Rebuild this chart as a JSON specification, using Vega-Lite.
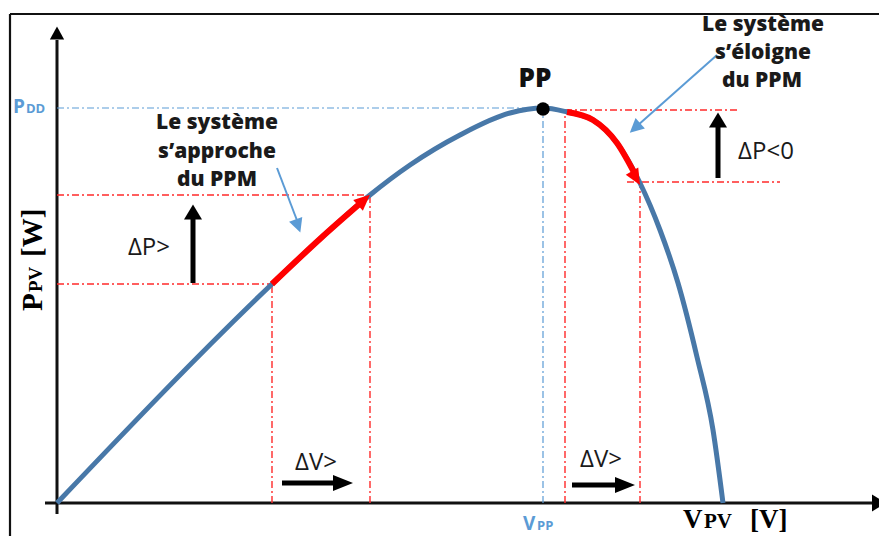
{
  "$schema": "https://vega.github.io/schema/vega-lite/v6.json",
  "width": 879,
  "height": 536,
  "autosize": {"type": "none"},
  "padding": 0,
  "background": "white",
  "config": {"view": {"stroke": null}},
  "encoding": {
    "x": {"field": "x", "type": "quantitative", "scale": {"domain": [-57, 822], "nice": false, "zero": false}, "axis": null},
    "y": {"field": "y", "type": "quantitative", "scale": {"domain": [-33, 503], "nice": false, "zero": false}, "axis": null}
  },
  "layer": [
    {
      "data": {"values": [
        {"x": -47, "y": -40, "x2": -47, "y2": 489},
        {"x": -47, "y": 489, "x2": 830, "y2": 489}
      ]},
      "mark": {"type": "rule", "color": "#111111", "strokeWidth": 2.2},
      "encoding": {"x2": {"field": "x2"}, "y2": {"field": "y2"}}
    },
    {
      "data": {"values": [
        {"x": 0, "y": -11, "x2": 0, "y2": 463},
        {"x": -12, "y": 0, "x2": 815, "y2": 0}
      ]},
      "mark": {"type": "rule", "color": "#111111", "strokeWidth": 3},
      "encoding": {"x2": {"field": "x2"}, "y2": {"field": "y2"}}
    },
    {
      "data": {"values": [
        {"x": 0, "y": 219, "x2": 215, "y2": 219},
        {"x": 0, "y": 308, "x2": 313, "y2": 308},
        {"x": 215, "y": 0, "x2": 215, "y2": 219},
        {"x": 313, "y": 0, "x2": 313, "y2": 308},
        {"x": 508, "y": 393, "x2": 683, "y2": 393},
        {"x": 570, "y": 321, "x2": 723, "y2": 321},
        {"x": 508, "y": 0, "x2": 508, "y2": 393},
        {"x": 583, "y": 0, "x2": 583, "y2": 321}
      ]},
      "mark": {"type": "rule", "color": "#ff2a2a", "strokeWidth": 1.4, "strokeDash": [7, 3, 2, 3]},
      "encoding": {"x2": {"field": "x2"}, "y2": {"field": "y2"}}
    },
    {
      "data": {"values": [
        {"x": 0, "y": 395, "x2": 486, "y2": 395},
        {"x": 486, "y": 0, "x2": 486, "y2": 395}
      ]},
      "mark": {"type": "rule", "color": "#5b9bd5", "strokeWidth": 1.2, "strokeDash": [7, 3, 2, 3]},
      "encoding": {"x2": {"field": "x2"}, "y2": {"field": "y2"}}
    },
    {
      "data": {"values": [
        {"x": 136, "y": 220, "x2": 136, "y2": 285},
        {"x": 661, "y": 325, "x2": 661, "y2": 377},
        {"x": 225, "y": 20, "x2": 277, "y2": 20},
        {"x": 515, "y": 18, "x2": 560, "y2": 18}
      ]},
      "mark": {"type": "rule", "color": "#000000", "strokeWidth": 5},
      "encoding": {"x2": {"field": "x2"}, "y2": {"field": "y2"}}
    },
    {
      "data": {"values": [
        {"x": 220, "y": 335, "x2": 241, "y2": 280},
        {"x": 660, "y": 448, "x2": 580, "y2": 377}
      ]},
      "mark": {"type": "rule", "color": "#5b9bd5", "strokeWidth": 2},
      "encoding": {"x2": {"field": "x2"}, "y2": {"field": "y2"}}
    },
    {
      "data": {"values": [
        {"x": 0, "y": 0}, {"x": 215, "y": 219}, {"x": 264, "y": 265}, {"x": 313, "y": 308},
        {"x": 353, "y": 338}, {"x": 403, "y": 368}, {"x": 453, "y": 390}, {"x": 486, "y": 395},
        {"x": 510, "y": 391}, {"x": 536, "y": 383}, {"x": 560, "y": 360}, {"x": 583, "y": 320},
        {"x": 603, "y": 273}, {"x": 621, "y": 220}, {"x": 640, "y": 146}, {"x": 656, "y": 73},
        {"x": 666, "y": 0}
      ]},
      "mark": {"type": "line", "color": "#4878a8", "strokeWidth": 5, "interpolate": "monotone"}
    },
    {
      "data": {"values": [
        {"seg": "a", "x": 215, "y": 219}, {"seg": "a", "x": 264, "y": 265}, {"seg": "a", "x": 306, "y": 302},
        {"seg": "b", "x": 510, "y": 391}, {"seg": "b", "x": 536, "y": 383}, {"seg": "b", "x": 560, "y": 360}, {"seg": "b", "x": 579, "y": 327}
      ]},
      "mark": {"type": "line", "color": "#ff0000", "strokeWidth": 6, "interpolate": "monotone"},
      "encoding": {"detail": {"field": "seg"}}
    },
    {
      "data": {"values": [{"x": 486, "y": 394}]},
      "mark": {"type": "point", "shape": "circle", "filled": true, "color": "#000000", "size": 180, "opacity": 1}
    },
    {
      "data": {"values": [{"x": 0, "y": 470}]},
      "mark": {"type": "point", "shape": "M0,-1L1.1,1L-1.1,1Z", "filled": true, "color": "#000000", "size": 169, "opacity": 1, "strokeWidth": 0}
    },
    {
      "data": {"values": [{"x": 822, "y": 0}]},
      "mark": {"type": "point", "shape": "M0,-1L1.2,1L-1.2,1Z", "angle": 90, "filled": true, "color": "#000000", "size": 196, "opacity": 1, "strokeWidth": 0}
    },
    {
      "data": {"values": [{"x": 136, "y": 291}, {"x": 661, "y": 383}]},
      "mark": {"type": "point", "shape": "M0,-1L1.2,1L-1.2,1Z", "filled": true, "color": "#000000", "size": 225, "opacity": 1, "strokeWidth": 0}
    },
    {
      "data": {"values": [{"x": 286, "y": 20}, {"x": 568, "y": 18}]},
      "mark": {"type": "point", "shape": "M0,-1L0.8,1L-0.8,1Z", "angle": 90, "filled": true, "color": "#000000", "size": 400, "opacity": 1, "strokeWidth": 0}
    },
    {
      "data": {"values": [{"x": 307, "y": 303}]},
      "mark": {"type": "point", "shape": "M0,-1L0.9,1L-0.9,1Z", "angle": 48, "filled": true, "color": "#ff0000", "size": 256, "opacity": 1, "strokeWidth": 0}
    },
    {
      "data": {"values": [{"x": 579, "y": 325}]},
      "mark": {"type": "point", "shape": "M0,-1L0.9,1L-0.9,1Z", "angle": 150, "filled": true, "color": "#ff0000", "size": 256, "opacity": 1, "strokeWidth": 0}
    },
    {
      "data": {"values": [{"x": 241, "y": 277}]},
      "mark": {"type": "point", "shape": "M0,-1L1,1L-1,1Z", "angle": 160.5, "filled": true, "color": "#5b9bd5", "size": 196, "opacity": 1, "strokeWidth": 0}
    },
    {
      "data": {"values": [{"x": 578, "y": 375}]},
      "mark": {"type": "point", "shape": "M0,-1L1,1L-1,1Z", "angle": 228, "filled": true, "color": "#5b9bd5", "size": 196, "opacity": 1, "strokeWidth": 0}
    },
    {
      "data": {"values": [
        {"x": 160, "y": 380, "text": "Le système"},
        {"x": 160, "y": 351, "text": "s’approche"},
        {"x": 160, "y": 323, "text": "du PPM"},
        {"x": 706, "y": 478, "text": "Le système"},
        {"x": 706, "y": 450, "text": "s’éloigne"},
        {"x": 705, "y": 422, "text": "du PPM"}
      ]},
      "mark": {"type": "text", "font": "Open Sans", "fontWeight": 800, "fontSize": 21, "color": "#1a1a1a", "align": "center", "baseline": "middle"},
      "encoding": {"text": {"field": "text"}}
    },
    {
      "data": {"values": [{"x": 478, "y": 424, "text": "PP"}]},
      "mark": {"type": "text", "font": "Open Sans", "fontWeight": 800, "fontSize": 26, "color": "#111111", "align": "center", "baseline": "middle"},
      "encoding": {"text": {"field": "text"}}
    },
    {
      "data": {"values": [
        {"x": 92, "y": 255, "text": "ΔP>"},
        {"x": 709, "y": 351, "text": "ΔP<0"},
        {"x": 259, "y": 40, "text": "ΔV>"},
        {"x": 544, "y": 43, "text": "ΔV>"}
      ]},
      "mark": {"type": "text", "font": "Open Sans", "fontSize": 24, "color": "#1a1a1a", "align": "center", "baseline": "middle"},
      "encoding": {"text": {"field": "text"}}
    },
    {
      "data": {"values": [{"x": -44, "y": 390, "text": "P"}, {"x": 466, "y": -27, "text": "V"}]},
      "mark": {"type": "text", "font": "Open Sans", "fontWeight": "bold", "fontSize": 19, "color": "#5b9bd5", "align": "left", "baseline": "alphabetic"},
      "encoding": {"text": {"field": "text"}}
    },
    {
      "data": {"values": [{"x": -31, "y": 390, "text": "DD"}, {"x": 480, "y": -27, "text": "PP"}]},
      "mark": {"type": "text", "font": "Open Sans", "fontWeight": "bold", "fontSize": 13, "color": "#5b9bd5", "align": "left", "baseline": "alphabetic"},
      "encoding": {"text": {"field": "text"}}
    },
    {
      "data": {"values": [{"x": -15, "y": 192, "text": "P"}, {"x": -15, "y": 246, "text": "[W]"}]},
      "mark": {"type": "text", "font": "Liberation Serif", "fontWeight": "bold", "fontSize": 29, "color": "#000000", "align": "left", "baseline": "alphabetic", "angle": 270},
      "encoding": {"text": {"field": "text"}}
    },
    {
      "data": {"values": [{"x": -15, "y": 211, "text": "PV"}]},
      "mark": {"type": "text", "font": "Liberation Serif", "fontWeight": "bold", "fontSize": 19, "color": "#000000", "align": "left", "baseline": "alphabetic", "angle": 270},
      "encoding": {"text": {"field": "text"}}
    },
    {
      "data": {"values": [{"x": 626, "y": -25, "text": "V"}, {"x": 693, "y": -25, "text": "[V]"}]},
      "mark": {"type": "text", "font": "Liberation Serif", "fontWeight": "bold", "fontSize": 27, "color": "#000000", "align": "left", "baseline": "alphabetic"},
      "encoding": {"text": {"field": "text"}}
    },
    {
      "data": {"values": [{"x": 647, "y": -25, "text": "PV"}]},
      "mark": {"type": "text", "font": "Liberation Serif", "fontWeight": "bold", "fontSize": 21, "color": "#000000", "align": "left", "baseline": "alphabetic"},
      "encoding": {"text": {"field": "text"}}
    }
  ]
}
